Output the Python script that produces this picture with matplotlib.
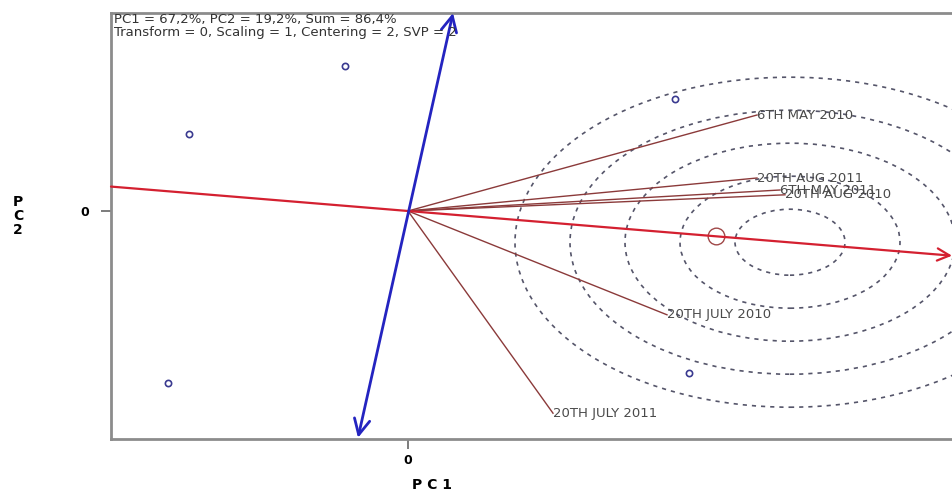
import numpy as np
import matplotlib.pyplot as plt
from matplotlib.patches import Ellipse

# biplot scores (PC1, PC2)
env_names = ["6TH MAY 2010", "20TH AUG 2011", "6TH MAY 2011", "20TH AUG 2010",
             "20TH JULY 2010", "20TH JULY 2011"]
env_pc1 = [3.49, 3.49, 3.72, 3.77, 2.59, 1.45]
env_pc2 = [1.60, 0.55, 0.35, 0.27, -1.73, -3.37]

gen_pc1 = [-0.63, -2.19, 2.67, -2.40, 2.81]
gen_pc2 = [2.42, 1.28, 1.87, -2.87, -2.70]

# average environment axis and its perpendicular
aea_x = [-2.97, 5.44]
aea_y = [0.407, -0.745]
perp_x = [-0.50, 0.45]
perp_y = [-3.78, 3.30]

# ideal environment and concentric rings around it
ideal_x, ideal_y = 3.82, -0.52
ring_radii = [0.55, 1.10, 1.65, 2.20, 2.75]
avg_env = (3.08, -0.42)

header = ["PC1 = 67,2%, PC2 = 19,2%, Sum = 86,4%",
          "Transform = 0, Scaling = 1, Centering = 2, SVP = 2"]

W, H = 952, 494
fig = plt.figure(figsize=(W / 100, H / 100), dpi=100)
plt.rcParams['font.family'] = ['DejaVu Sans']

# axes runs past the right edge of the figure
left, right, top, bottom = 111, 965, 13, 439
ax = fig.add_axes([left / W, 1 - bottom / H, (right - left) / W, (bottom - top) / H])
ax.set_xlim(-2.97, 5.57)
ax.set_ylim(-3.80, 3.30)

for s in ax.spines.values():
    s.set_color('#8c8c8c')
    s.set_linewidth(2)

ax.set_xticks([0])
ax.set_yticks([0])
ax.set_xticklabels(['0'], fontweight='bold', fontsize=9)
ax.set_yticklabels(['0'], fontweight='bold', fontsize=9)
ax.tick_params(length=7, width=1.2, color='#666666')
ax.tick_params(axis='x', pad=4)
ax.tick_params(axis='y', pad=9)

for r in ring_radii:
    ax.add_patch(Ellipse((ideal_x, ideal_y), 2 * r, 2 * r, fill=False,
                         edgecolor='#55556a', linestyle=(0, (2.5, 3)), linewidth=1.2))

for x, y, name in zip(env_pc1, env_pc2, env_names):
    ax.plot([0, x], [0, y], color='#8b3a3a', linewidth=1)
    ax.text(x, y, name, fontsize=9.5, color='#4a4a4a', ha='left', va='center')

# average environment axis with arrow
ax.annotate('', xy=(aea_x[1], aea_y[1]), xytext=(aea_x[0], aea_y[0]),
            arrowprops=dict(arrowstyle='->', color='#d42030', lw=1.6,
                            mutation_scale=22, shrinkA=0, shrinkB=0))
ax.annotate('', xy=(perp_x[1], perp_y[1]), xytext=(perp_x[0], perp_y[0]),
            arrowprops=dict(arrowstyle='<->', color='#2424c0', lw=2,
                            mutation_scale=28, shrinkA=0, shrinkB=0))

ax.plot(gen_pc1, gen_pc2, 'o', markersize=4.5, markerfacecolor='none',
        markeredgecolor='#3a3a90', markeredgewidth=1.2)
ax.plot([avg_env[0]], [avg_env[1]], 'o', markersize=12, markerfacecolor='none',
        markeredgecolor='#a04848', markeredgewidth=1)

fig.text(114 / W, 1 - 19 / H, header[0], fontsize=9.5, color='#333333', va='center')
fig.text(114 / W, 1 - 32.5 / H, header[1], fontsize=9.5, color='#333333', va='center')

fig.text(432 / W, 1 - 485 / H, 'P C 1', fontsize=10, fontweight='bold', ha='center', va='center')
fig.text(18 / W, 1 - 216 / H, 'P\nC\n2', fontsize=10, fontweight='bold', ha='center', va='center',
         linespacing=1.0)

fig.savefig('out.png', dpi=100)
